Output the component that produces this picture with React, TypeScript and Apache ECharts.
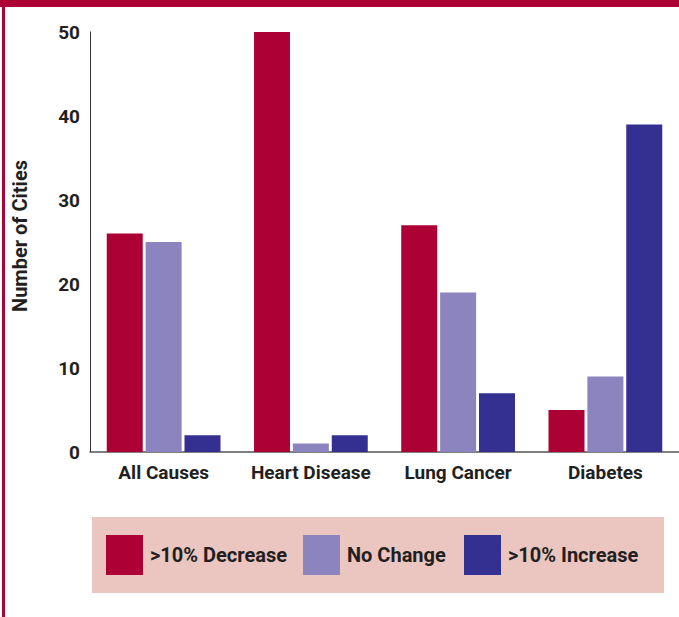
import React, { useEffect, useRef } from "react";
import * as echarts from "echarts";

const categories = ["All Causes", "Heart Disease", "Lung Cancer", "Diabetes"];
const seriesNames = [">10% Decrease", "No Change", ">10% Increase"];
const decreaseValues = [26, 50, 27, 5];
const noChangeValues = [25, 1, 19, 9];
const increaseValues = [2, 2, 7, 39];
const colors = ["#ad0034", "#8b84be", "#333092"];

const FONT = "Roboto, 'Liberation Sans', sans-serif";
const TEXT = "#231f20";

export default function App() {
  const ref = useRef<HTMLDivElement>(null);
  useEffect(() => {
    if (!ref.current) return;
    const chart = echarts.init(ref.current, null, { renderer: "svg" });
    const values = [decreaseValues, noChangeValues, increaseValues];
    const legendLefts = [106, 303, 464];
    chart.setOption({
      animation: false,
      backgroundColor: "#ffffff",
      textStyle: { fontFamily: FONT },
      grid: { left: 90, right: 0, top: 32, bottom: 165, outerBoundsMode: "none", containLabel: false },
      graphic: [
        { type: "rect", shape: { x: 0, y: 0, width: 679, height: 7 }, style: { fill: "#ad0034" }, z: 10 },
        { type: "rect", shape: { x: 2, y: 0, width: 3, height: 617 }, style: { fill: "#ad0034" }, z: 10 },
        { type: "rect", shape: { x: 92, y: 517, width: 572, height: 76 }, style: { fill: "#ebc5c0" }, z: -1 },
      ],
      legend: seriesNames.map((n, i) => ({
        data: [n],
        left: legendLefts[i],
        top: 535,
        padding: 0,
        itemWidth: 37,
        itemHeight: 40,
        itemGap: 0,
        icon: "rect",
        selectedMode: false,
        textStyle: { fontFamily: FONT, fontSize: 20, fontWeight: "bold", color: TEXT, padding: [0, 0, 0, 2] },
      })),
      xAxis: {
        type: "category",
        data: categories,
        axisLine: { lineStyle: { color: "#555", width: 1.5 } },
        axisTick: { show: false },
        axisLabel: { interval: 0, fontFamily: FONT, fontSize: 19, fontWeight: "bold", color: TEXT, margin: 11 },
      },
      yAxis: {
        type: "value",
        min: 0,
        max: 50,
        interval: 10,
        name: "Number of Cities",
        nameLocation: "middle",
        nameRotate: 90,
        nameGap: 60,
        nameTextStyle: { fontFamily: FONT, fontSize: 20, fontWeight: "bold", color: TEXT, padding: [0, 0, 0, 12] },
        axisLine: { show: true, lineStyle: { color: "#333", width: 1 } },
        axisTick: { show: false },
        splitLine: { show: false },
        axisLabel: { fontFamily: FONT, fontSize: 19, fontWeight: "bold", color: TEXT, margin: 10 },
      },
      series: seriesNames.map((n, i) => ({
        name: n,
        type: "bar",
        data: values[i],
        barWidth: 36,
        barGap: "8%",
        itemStyle: { color: colors[i] },
      })),
    });
    return () => chart.dispose();
  }, []);
  return <div ref={ref} style={{ position: "fixed", left: 0, top: 0, width: 679, height: 617 }} />;
}
